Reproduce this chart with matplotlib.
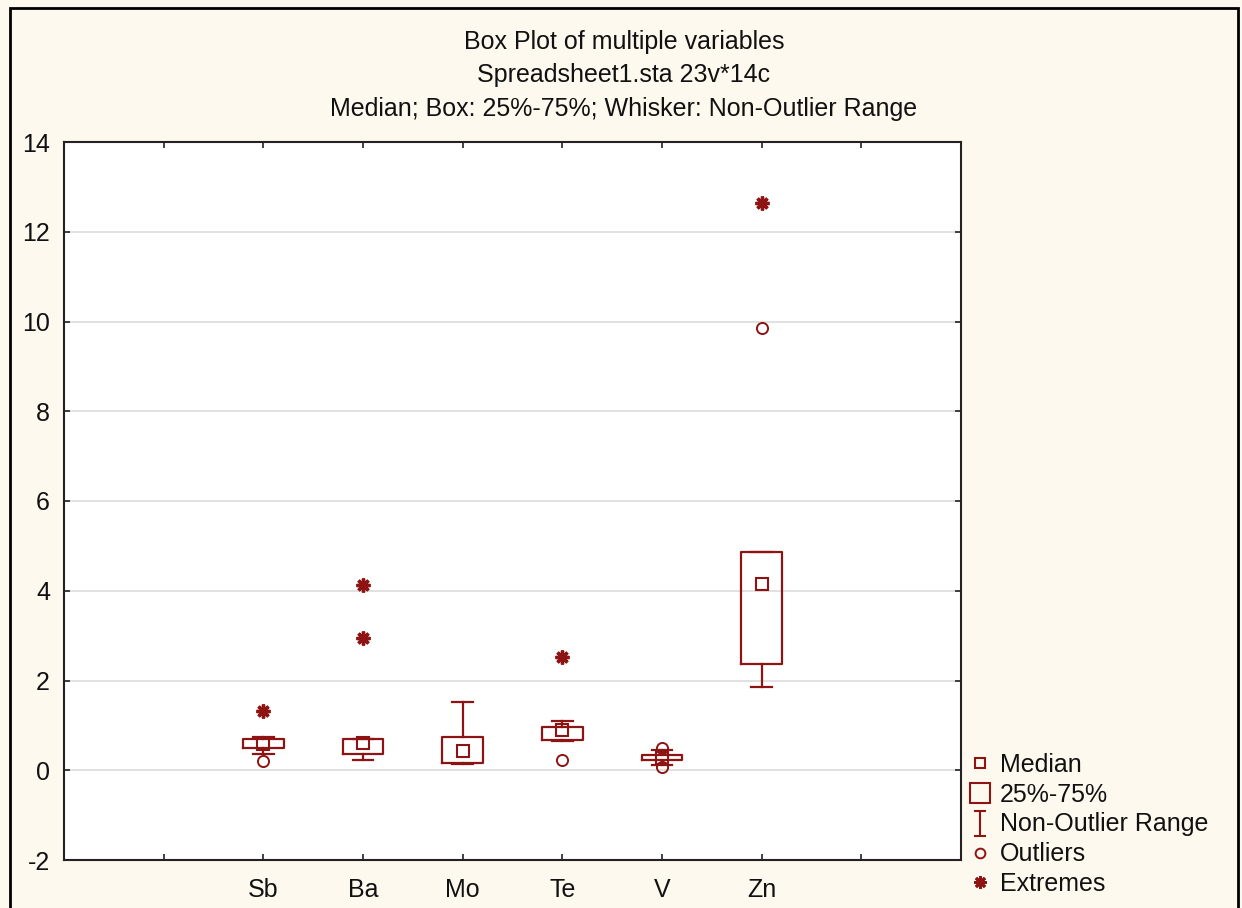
import matplotlib
matplotlib.use("Agg")
import matplotlib.pyplot as plt
from matplotlib.lines import Line2D
from matplotlib.patches import Rectangle
from matplotlib.path import Path

plt.rcParams['font.family'] = ['Liberation Sans', 'DejaVu Sans']

# ---- data ----
variables = ["Sb", "Ba", "Mo", "Te", "V", "Zn"]
medians = [0.58, 0.60, 0.42, 0.90, 0.28, 4.16]
q1 = [0.50, 0.37, 0.16, 0.67, 0.23, 2.36]
q3 = [0.70, 0.70, 0.73, 0.96, 0.33, 4.86]
whisk_lo = [0.37, 0.22, 0.15, 0.65, 0.12, 1.85]
whisk_hi = [0.73, 0.70, 1.52, 1.10, 0.45, 4.86]
outliers = [[0.21], [], [], [0.22], [0.50, 0.08], [9.85]]
extremes = [[1.31], [4.13, 2.95], [], [2.53], [], [12.63]]
positions = [2, 3, 4, 5, 6, 7]
title_lines = ["Box Plot of multiple variables",
               "Spreadsheet1.sta 23v*14c",
               "Median; Box: 25%-75%; Whisker: Non-Outlier Range"]
yticks = [-2, 0, 2, 4, 6, 8, 10, 12, 14]

RED = "#8E1414"
BG = "#FEF9EE"
W, H = 1242, 908
FS = 18

fig = plt.figure(figsize=(W / 100, H / 100), dpi=100, facecolor=BG)
ax = fig.add_axes([64 / W, 1 - 860 / H, (961 - 64) / W, (860 - 142) / H])
ax.set_facecolor("white")

stats = []
for i, name in enumerate(variables):
    stats.append(dict(med=medians[i], q1=q1[i], q3=q3[i],
                      whislo=whisk_lo[i], whishi=whisk_hi[i],
                      fliers=[], label=name))

ax.bxp(stats, positions=positions, widths=0.41, capwidths=0.21,
       showfliers=False, manage_ticks=False,
       boxprops=dict(color=RED, linewidth=1.6),
       whiskerprops=dict(color=RED, linewidth=1.6),
       capprops=dict(color=RED, linewidth=1.6),
       medianprops=dict(linewidth=0))

ax.plot(positions, medians, linestyle="none", marker="s", markersize=8,
        markerfacecolor="none", markeredgecolor=RED, markeredgewidth=1.5, zorder=4)

for p, outs in zip(positions, outliers):
    if outs:
        ax.plot([p] * len(outs), outs, linestyle="none", marker="o", markersize=8,
                markerfacecolor="none", markeredgecolor=RED, markeredgewidth=1.4, zorder=4)
for p, ex in zip(positions, extremes):
    if ex:
        ax.plot([p] * len(ex), ex, linestyle="none", marker=(8, 2, 0), markersize=10,
                markeredgecolor=RED, markeredgewidth=2.4, zorder=4)

ax.set_xlim(0, 9)
ax.set_ylim(-2, 14)
ax.set_yticks(yticks)
ax.set_yticklabels([str(v) for v in yticks])
ax.set_xticks(range(1, 9))
ax.set_xticklabels([""] + variables + [""])
ax.yaxis.grid(True, color="#DCDCDC", linewidth=1.2)
ax.set_axisbelow(True)
ax.tick_params(direction="in", length=4, width=1.2, color="#222222",
               top=True, right=True, labelsize=FS, labelcolor="#111111")
ax.tick_params(axis="x", pad=13)
ax.tick_params(axis="y", pad=10)
for s in ax.spines.values():
    s.set_color("#222222")
    s.set_linewidth(1.5)

# titles
for t, yp in zip(title_lines, [42, 75, 109]):
    fig.text(624 / W, 1 - yp / H, t, ha="center", va="center", fontsize=FS, color="#111111")

# figure border
fig.patches.append(Rectangle((10 / W, -0.05), (1238 - 10) / W, 1.05 - 8 / H,
                             transform=fig.transFigure, fill=False,
                             edgecolor="black", linewidth=2))

# legend
whisker_marker = Path([(-0.5, -1), (0.5, -1), (0, -1), (0, 1), (-0.5, 1), (0.5, 1)],
                      [Path.MOVETO, Path.LINETO, Path.MOVETO, Path.LINETO,
                       Path.MOVETO, Path.LINETO])
handles = [
    Line2D([], [], linestyle="none", marker="s", markersize=7, markerfacecolor="none",
           markeredgecolor=RED, markeredgewidth=1.5),
    Line2D([], [], linestyle="none", marker="s", markersize=15, markerfacecolor="none",
           markeredgecolor=RED, markeredgewidth=1.5),
    Line2D([], [], linestyle="none", marker=whisker_marker, markersize=18,
           markerfacecolor="none", markeredgecolor=RED, markeredgewidth=1.5),
    Line2D([], [], linestyle="none", marker="o", markersize=7, markerfacecolor="none",
           markeredgecolor=RED, markeredgewidth=1.4),
    Line2D([], [], linestyle="none", marker=(8, 2, 0), markersize=9,
           markeredgecolor=RED, markeredgewidth=2),
]
labels = ["Median", "25%-75%", "Non-Outlier Range", "Outliers", "Extremes"]
fig.legend(handles, labels, loc="upper left", bbox_to_anchor=(967 / W, 1 - 753 / H),
           frameon=False, fontsize=FS, handlelength=1.0, handletextpad=0.3,
           labelspacing=0.23, borderpad=0, borderaxespad=0, labelcolor="#111111")

fig.savefig("out.png", dpi=100, facecolor=BG)
